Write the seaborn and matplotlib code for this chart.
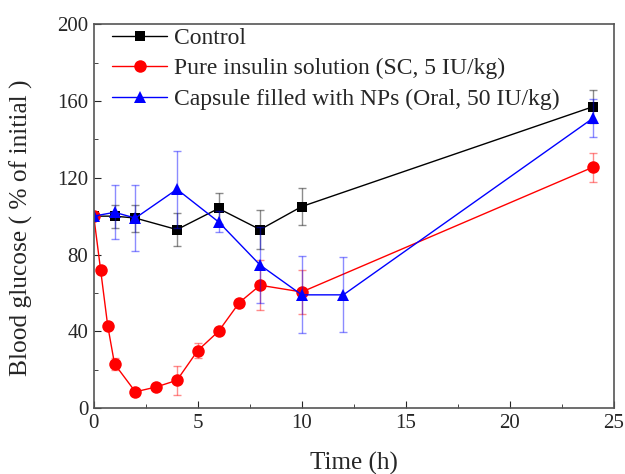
import matplotlib
matplotlib.use("Agg")
import matplotlib.pyplot as plt
import numpy as np
import pandas as pd
import seaborn as sns

# Control
ctrl_t = [0, 1, 2, 4, 6, 8, 10, 24]
ctrl_y = [100, 100, 99, 93, 104, 93, 105, 157]
ctrl_err = [0, 6, 7, 8.5, 8, 10, 9.5, 8.5]

# Pure insulin solution (SC, 5 IU/kg)
sc_t = [0, 0.33, 0.67, 1, 2, 3, 4, 5, 6, 7, 8, 10, 24]
sc_y = [100, 72, 43, 23, 8.5, 11, 14.5, 30, 40, 55, 64, 60.5, 125.5]
sc_err = [0, 0, 0, 3, 0, 0, 7.5, 4, 0, 0, 13, 11.7, 7.5]

# Capsule filled with NPs (Oral, 50 IU/kg)
np_t = [0, 1, 2, 4, 6, 8, 10, 12, 24]
np_y = [100, 102, 99, 114, 97, 74.5, 59, 59, 151]
np_err = [0, 14, 17, 20, 5.5, 20, 20, 19.5, 10]

labels = ["Control", "Pure insulin solution (SC, 5 IU/kg)",
          "Capsule filled with NPs (Oral, 50 IU/kg)"]

sns.set_style("ticks")
plt.rcParams['font.family'] = ['Liberation Serif', 'DejaVu Serif']

fig = plt.figure(figsize=(6.25, 4.74), dpi=100)
ax = fig.add_axes([0.150, 0.139, 0.832, 0.810])

series = [
    (ctrl_t, ctrl_y, ctrl_err, "black", "s", 7),
    (sc_t, sc_y, sc_err, "red", "o", 9),
    (np_t, np_y, np_err, "blue", "^", 9),
]
for (t, y, e, c, m, ms), lab in zip(series, labels):
    ax.errorbar(t, y, yerr=e, fmt="none", ecolor=c, alpha=0.45,
                elinewidth=1, capsize=3, capthick=1)
    df = pd.DataFrame({"t": t, "y": y})
    sns.lineplot(data=df, x="t", y="y", ax=ax, color=c, lw=1.0,
                 marker=m, markersize=ms, markeredgecolor=c,
                 markeredgewidth=0, label=lab)

ax.set_xlim(0, 25)
ax.set_ylim(0, 200)
ax.set_xticks(np.arange(0, 26, 5))
ax.set_xticks(np.arange(2.5, 25, 5), minor=True)
ax.set_yticks(np.arange(0, 201, 40))
ax.set_yticks(np.arange(20, 200, 40), minor=True)
ax.tick_params(which="both", direction="in", top=False, right=False,
               labelsize=15, pad=4)
ax.tick_params(which="major", length=5)
ax.tick_params(which="minor", length=3)
for s in ax.spines.values():
    s.set_visible(True)
    s.set_color("#555555")
    s.set_linewidth(1.2)

ax.set_xlabel("Time (h)", fontsize=18, labelpad=14)
ax.set_ylabel("Blood glucose ( % of initial )", fontsize=18.3)
ax.yaxis.set_label_coords(-0.117, 0.47)

ax.legend(loc="upper left", bbox_to_anchor=(0.036, 0.992), frameon=False,
          fontsize=17, handlelength=2.3, handletextpad=0.3,
          labelspacing=0.38, borderaxespad=0, borderpad=0)

fig.savefig("out.png", dpi=100)
